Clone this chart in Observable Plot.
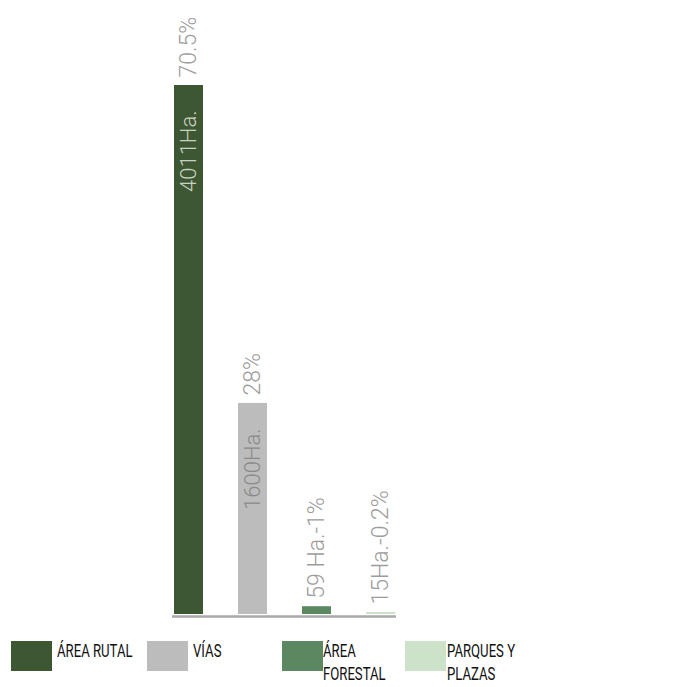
<!DOCTYPE html>
<html>
<head>
<meta charset="utf-8">
<script src="https://cdn.jsdelivr.net/npm/d3@7"></script>
<script src="https://cdn.jsdelivr.net/npm/@observablehq/plot@0.6"></script>
<style>
  html, body { margin: 0; padding: 0; background: #fff; }
  #wrap { position: relative; width: 678px; height: 687px; overflow: hidden; }
  #chart svg { display: block; }
  #legend { position: absolute; top: 641px; left: 0; width: 678px; height: 46px;
    font-family: "Roboto", sans-serif; font-size: 18px; color: #111; }
  .item { position: absolute; top: 0; }
  .sw { position: absolute; left: 0; top: 0; width: 41px; height: 30px; }
  .lab { position: absolute; top: -2px; line-height: 23px; transform: scaleX(0.73);
    transform-origin: 0 0; }
  .item:nth-child(1) { left: 11px; } .item:nth-child(1) .lab { left: 46px; width: 125px; }
  .item:nth-child(2) { left: 147px; } .item:nth-child(2) .lab { left: 46px; width: 125px; }
  .item:nth-child(3) { left: 282px; } .item:nth-child(3) .lab { left: 41px; width: 105px; }
  .item:nth-child(4) { left: 405px; } .item:nth-child(4) .lab { left: 42px; width: 115px; }
</style>
</head>
<body>
<div id="wrap">
  <div id="chart"></div>
  <div id="legend"></div>
</div>
<script>
const categories = ["ÁREA RUTAL", "VÍAS", "ÁREA FORESTAL", "PARQUES Y PLAZAS"];
const hectares = [4011, 1600, 59, 15];
const insideLabels = ["4011Ha.", "1600Ha.", "", ""];
const topLabels = ["70.5%", "28%", "59 Ha.-1%", "15Ha.-0.2%"];
const colors = ["#3e5733", "#bcbcbc", "#5b8860", "#cde3c9"];
const insideColors = ["#c9d2c2", "#8a8a8a", "#999", "#999"];

const data = categories.map((c, i) => ({
  cat: c, ha: hectares[i], inside: insideLabels[i], top: topLabels[i], ic: insideColors[i]
}));

const chart = Plot.plot({
  width: 678,
  height: 630,
  marginLeft: 172,
  marginRight: 282,
  marginTop: 85,
  marginBottom: 16,
  x: { domain: categories, paddingInner: 0.55, paddingOuter: 0, axis: null },
  y: { axis: null },
  color: { domain: categories, range: colors },
  style: { fontFamily: "Roboto, sans-serif", background: "#fff" },
  marks: [
    Plot.barY(data, { x: "cat", y: "ha", fill: "cat" }),
    Plot.ruleY([0], { stroke: "#a9a9a9", strokeWidth: 2.5, dy: 2 }),
    Plot.text(data, { x: "cat", y: "ha", text: "top", rotate: -90, textAnchor: "start",
      lineAnchor: "middle", dy: -8, fill: "#9d9d9d", fontSize: 23, fontWeight: 300 }),
    Plot.text(data, { x: "cat", y: "ha", text: "inside", rotate: -90, textAnchor: "end",
      lineAnchor: "middle", dy: 25, fill: "ic", fontSize: 22, fontWeight: 300 })
  ]
});
document.getElementById("chart").appendChild(chart);

const legend = document.getElementById("legend");
categories.forEach((c, i) => {
  const item = document.createElement("div");
  item.className = "item";
  const sw = document.createElement("div");
  sw.className = "sw";
  sw.style.background = colors[i];
  const lab = document.createElement("div");
  lab.className = "lab";
  lab.textContent = c;
  item.appendChild(sw);
  item.appendChild(lab);
  legend.appendChild(item);
});
</script>
</body>
</html>
